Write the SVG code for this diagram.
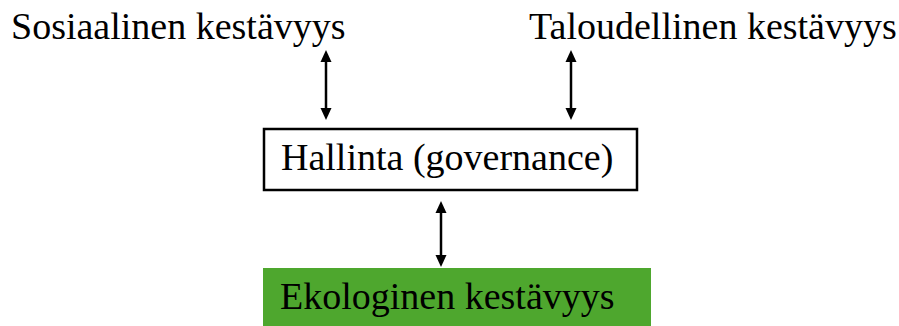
<svg xmlns="http://www.w3.org/2000/svg" width="899" height="326" viewBox="0 0 899 326">
<style>
.t{font-family:"Liberation Serif","Times New Roman",serif;font-size:38px;fill:#000}
.c{stroke:#000;stroke-width:2.5;fill:none}
</style>
<defs>
<marker id="ah" viewBox="0 0 12 12" markerWidth="12" markerHeight="12" refX="8" refY="6" orient="auto-start-reverse" markerUnits="userSpaceOnUse">
<path d="M0,0.5 L12,6 L0,11.5 z" fill="#000"/>
</marker>
</defs>
<rect width="899" height="326" fill="#fff"/>
<g id="sosiaalinen"><text class="t" x="11" y="39">Sosiaalinen kestävyys</text></g>
<g id="taloudellinen"><text class="t" x="529" y="39">Taloudellinen kestävyys</text></g>
<g id="hallinta">
<rect x="264" y="129" width="373" height="61" fill="#fff" stroke="#000" stroke-width="2.5"/>
<text class="t" x="281" y="170">Hallinta (governance)</text>
</g>
<g id="ekologinen">
<rect x="263" y="268" width="388" height="58" fill="#4EA72E"/>
<text class="t" x="280" y="309">Ekologinen kestävyys</text>
</g>
<g id="connectors">
<line class="c" x1="326" y1="54" x2="326" y2="116" marker-start="url(#ah)" marker-end="url(#ah)"/>
<line class="c" x1="571" y1="54" x2="571" y2="116" marker-start="url(#ah)" marker-end="url(#ah)"/>
<line class="c" x1="441" y1="205" x2="441" y2="263" marker-start="url(#ah)" marker-end="url(#ah)"/>
</g>
</svg>
